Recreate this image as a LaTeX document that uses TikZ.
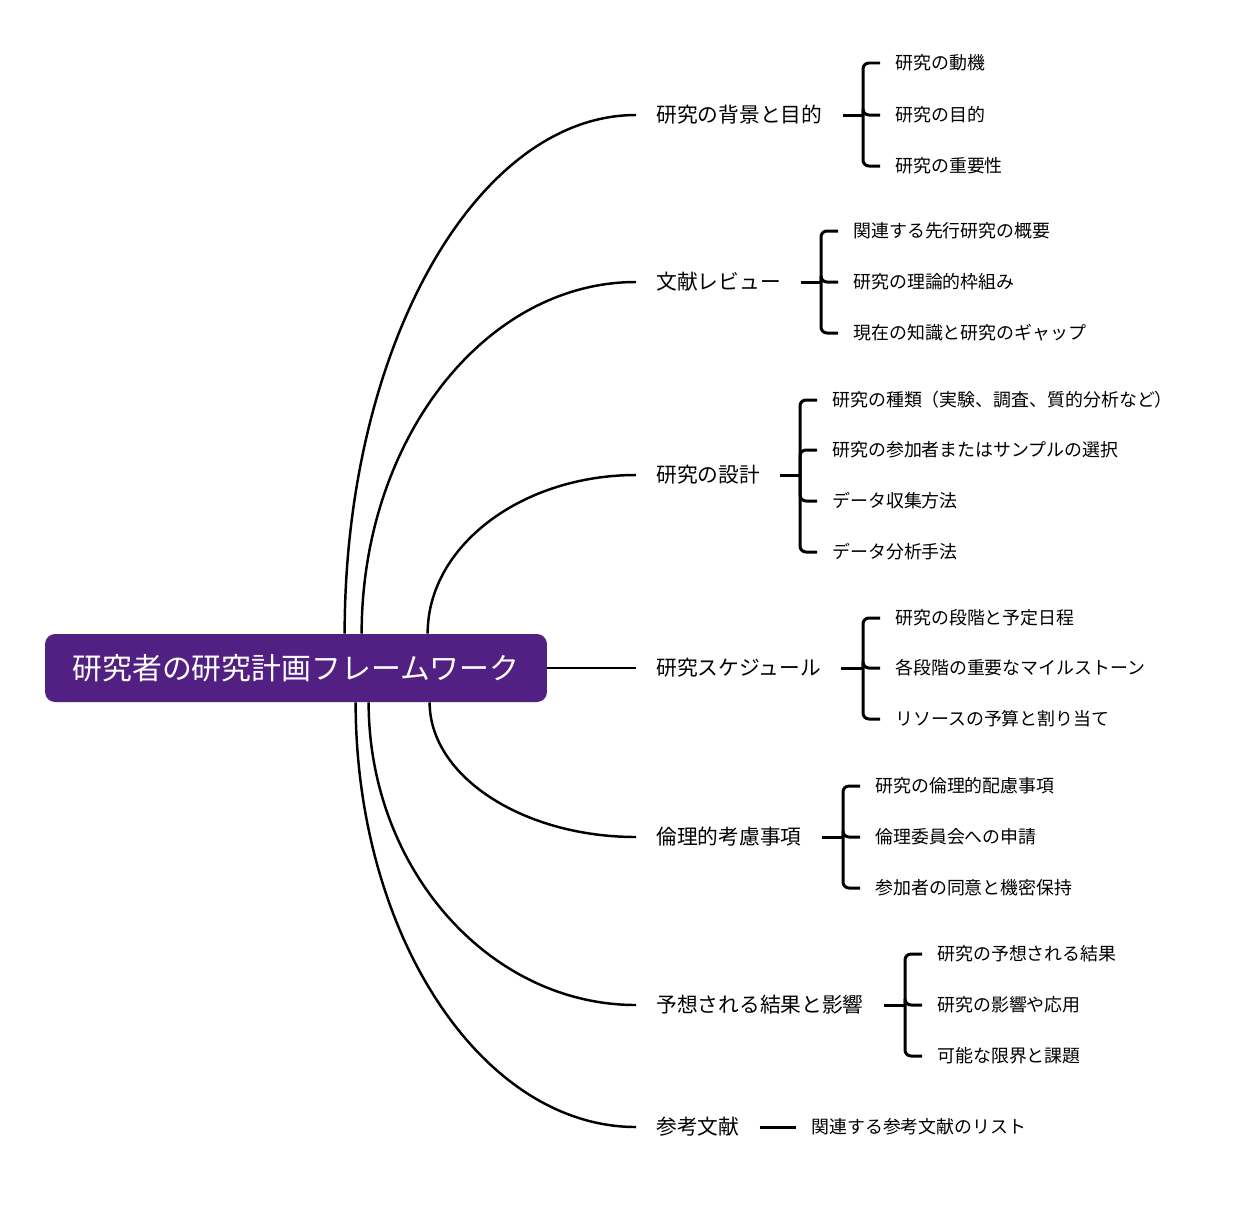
\documentclass[tikz,border=0pt]{standalone}
\usepackage{fontspec}
\newfontfamily\jpfont{Noto Sans CJK JP}
\definecolor{rootpurple}{RGB}{82,31,130}

\begin{document}
\begin{tikzpicture}[x=0.02cm,y=-0.02cm,font=\jpfont]
  \tikzset{
    root/.style={rounded corners=0.2cm,fill=rootpurple,text=white,minimum width=10.04cm,
                 minimum height=1.36cm,font=\jpfont\fontsize{17}{18}\selectfont},
    br/.style={anchor=west,inner xsep=0.4cm,inner ysep=0pt,font=\jpfont\fontsize{11.8}{13}\selectfont},
    lf/.style={anchor=west,inner xsep=0.3cm,inner ysep=0pt,font=\jpfont\fontsize{10.2}{12}\selectfont},
    lnk/.style={line width=1.4pt},
    brk/.style={line width=1.7pt,rounded corners=0.12cm}
  }
  \useasboundingbox (0,0) rectangle (1236,1211);

  \node[root] (r) at (296,668) {研究者の研究計画フレームワーク};

  \node[br] (b1) at (636,115) {研究の背景と目的};
  \node[br] (b2) at (636,282) {文献レビュー};
  \node[br] (b3) at (636,475) {研究の設計};
  \node[br] (b4) at (636,668) {研究スケジュール};
  \node[br] (b5) at (636,837) {倫理的考慮事項};
  \node[br] (b6) at (636,1005) {予想される結果と影響};
  \node[br] (b7) at (636,1127) {参考文献};

  % leaves
  \node[lf] (c11) at (880,63) {研究の動機};
  \node[lf] (c12) at (880,115) {研究の目的};
  \node[lf] (c13) at (880,166) {研究の重要性};

  \node[lf] (c21) at (838,231) {関連する先行研究の概要};
  \node[lf] (c22) at (838,282) {研究の理論的枠組み};
  \node[lf] (c23) at (838,333) {現在の知識と研究のギャップ};

  \node[lf] (c31) at (817,400) {研究の種類（実験、調査、質的分析など）};
  \node[lf] (c32) at (817,450) {研究の参加者またはサンプルの選択};
  \node[lf] (c33) at (817,501) {データ収集方法};
  \node[lf] (c34) at (817,552) {データ分析手法};

  \node[lf] (c41) at (880,618) {研究の段階と予定日程};
  \node[lf] (c42) at (880,668) {各段階の重要なマイルストーン};
  \node[lf] (c43) at (880,719) {リソースの予算と割り当て};

  \node[lf] (c51) at (860,786) {研究の倫理的配慮事項};
  \node[lf] (c52) at (860,837) {倫理委員会への申請};
  \node[lf] (c53) at (860,888) {参加者の同意と機密保持};

  \node[lf] (c61) at (922,954) {研究の予想される結果};
  \node[lf] (c62) at (922,1005) {研究の影響や応用};
  \node[lf] (c63) at (922,1056) {可能な限界と課題};

  \node[lf] (c71) at (796,1127) {関連する参考文献のリスト};

  \coordinate (j1) at (863,115);
  \coordinate (j2) at (821,282);
  \coordinate (j3) at (800,475);
  \coordinate (j4) at (863,668);
  \coordinate (j5) at (843,837);
  \coordinate (j6) at (905,1005);

  % root to branches
  \draw[lnk] ([xshift=6cm]r.north west) .. controls +(0,-286) and +(-160,0) .. (b1.west);
  \draw[lnk] ([xshift=6.34cm]r.north west) .. controls +(0,-194) and +(-151,0) .. (b2.west);
  \draw[lnk] ([xshift=7.66cm]r.north west) .. controls +(0,-88) and +(-114,0) .. (b3.west);
  \draw[lnk] (r.east) -- (b4.west);
  \draw[lnk] ([xshift=7.7cm]r.south west) .. controls +(0,74) and +(-113,0) .. (b5.west);
  \draw[lnk] ([xshift=6.48cm]r.south west) .. controls +(0,166) and +(-147,0) .. (b6.west);
  \draw[lnk] ([xshift=6.22cm]r.south west) .. controls +(0,233) and +(-154,0) .. (b7.west);

  % brackets
  \draw[brk] (b1.east) -- (j1);
  \draw[brk] (j1) |- (c11.west);
  \draw[brk] (j1) |- (c12.west);
  \draw[brk] (j1) |- (c13.west);

  \draw[brk] (b2.east) -- (j2);
  \draw[brk] (j2) |- (c21.west);
  \draw[brk] (j2) |- (c22.west);
  \draw[brk] (j2) |- (c23.west);

  \draw[brk] (b3.east) -- (j3);
  \draw[brk] (j3) |- (c31.west);
  \draw[brk] (j3) |- (c32.west);
  \draw[brk] (j3) |- (c33.west);
  \draw[brk] (j3) |- (c34.west);

  \draw[brk] (b4.east) -- (j4);
  \draw[brk] (j4) |- (c41.west);
  \draw[brk] (j4) |- (c42.west);
  \draw[brk] (j4) |- (c43.west);

  \draw[brk] (b5.east) -- (j5);
  \draw[brk] (j5) |- (c51.west);
  \draw[brk] (j5) |- (c52.west);
  \draw[brk] (j5) |- (c53.west);

  \draw[brk] (b6.east) -- (j6);
  \draw[brk] (j6) |- (c61.west);
  \draw[brk] (j6) |- (c62.west);
  \draw[brk] (j6) |- (c63.west);

  \draw[brk] (b7.east) -- (c71.west);
\end{tikzpicture}
\end{document}
